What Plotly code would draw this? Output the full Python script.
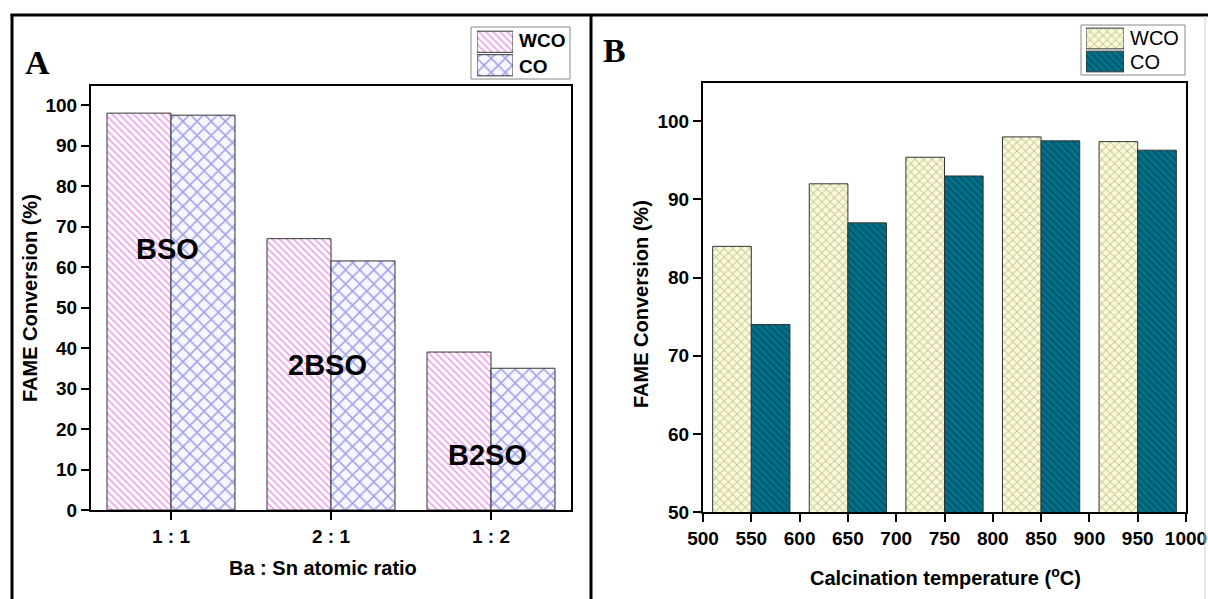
import plotly.graph_objects as go

# ---- data -------------------------------------------------------------
ratio_labels = ["1 : 1", "2 : 1", "1 : 2"]
ratio_wco = [98.0, 67.0, 39.0]
ratio_co = [97.5, 61.5, 35.0]
catalyst_names = ["BSO", "2BSO", "B2SO"]
catalyst_label_y = [64.4, 35.8, 13.6]

temperatures = [550, 650, 750, 850, 950]
temp_wco = [84.0, 92.0, 95.4, 98.0, 97.4]
temp_co = [74.0, 87.0, 93.0, 97.5, 96.3]
temp_ticks = [500, 550, 600, 650, 700, 750, 800, 850, 900, 950, 1000]

series_names = ["WCO", "CO"]

W, H = 1208, 599


def px_x(p):
    return p / W


def px_y(p):
    return 1 - p / H


# ---- styles -----------------------------------------------------------
A_WCO = dict(shape="\\", fgcolor="#dd50dd", bgcolor="#ffffff", size=5, solidity=0.35)
A_CO = dict(shape="x", fgcolor="#4c4cd6", bgcolor="#f6f6ff", size=10, solidity=0.28)
B_WCO = dict(shape="x", fgcolor="#96965a", bgcolor="#fbfbdc", size=6, solidity=0.3)
B_CO = dict(shape="\\", fgcolor="#00384a", bgcolor="#00728a", size=5, solidity=0.35)
FILL = {"A_WCO": "white", "A_CO": "white", "B_WCO": "#fbfbdc", "B_CO": "#00728a"}
OUTLINE = dict(color="#333333", width=1)

tick_font = dict(family="Liberation Sans, Arial", size=19, color="black", weight="bold")

fig = go.Figure()

# ---- panel A bars -----------------------------------------------------
fig.add_trace(go.Bar(x=ratio_labels, y=ratio_wco, name="WCO",
                     marker=dict(color=FILL["A_WCO"], pattern=A_WCO, line=OUTLINE),
                     xaxis="x", yaxis="y"))
fig.add_trace(go.Bar(x=ratio_labels, y=ratio_co, name="CO",
                     marker=dict(color=FILL["A_CO"], pattern=A_CO, line=OUTLINE),
                     xaxis="x", yaxis="y"))

# ---- panel B bars -----------------------------------------------------
fig.add_trace(go.Bar(x=temperatures, y=temp_wco, name="WCO",
                     marker=dict(color=FILL["B_WCO"], pattern=B_WCO, line=OUTLINE),
                     xaxis="x2", yaxis="y2"))
fig.add_trace(go.Bar(x=temperatures, y=temp_co, name="CO",
                     marker=dict(color=FILL["B_CO"], pattern=B_CO, line=OUTLINE),
                     xaxis="x2", yaxis="y2"))


# ---- legend swatches: one horizontal bar per entry ----------------------
def add_swatches(xa, ya, styles, fills):
    for name, style, fill in zip(series_names, styles, fills):
        fig.add_trace(go.Bar(y=[name], x=[1], orientation="h", width=0.9, offset=-0.45,
                             marker=dict(color=fill, pattern=style, line=OUTLINE),
                             xaxis=xa, yaxis=ya, hoverinfo="skip"))


add_swatches("x3", "y3", [A_WCO, A_CO], [FILL["A_WCO"], FILL["A_CO"]])
add_swatches("x4", "y4", [B_WCO, B_CO], [FILL["B_WCO"], FILL["B_CO"]])

axis_common = dict(showline=True, linecolor="black", linewidth=2, mirror=True,
                   ticks="outside", ticklen=8, tickwidth=2, tickcolor="black",
                   showgrid=False, zeroline=False, tickfont=tick_font, automargin=False)

hidden = dict(visible=False, showgrid=False, zeroline=False, fixedrange=True, automargin=False)

fig.update_layout(
    width=W, height=H,
    margin=dict(l=0, r=0, t=0, b=0, pad=0, autoexpand=False),
    paper_bgcolor="white", plot_bgcolor="white",
    showlegend=False,
    barmode="group", bargap=0.2, bargroupgap=0,
    xaxis=dict(axis_common, domain=[px_x(91), px_x(571)], type="category",
               range=[-0.5, 2.5], anchor="y"),
    yaxis=dict(axis_common, domain=[px_y(510), px_y(86)], range=[0, 104.7],
               tickvals=list(range(0, 101, 10)), anchor="x"),
    xaxis2=dict(axis_common, domain=[px_x(703), px_x(1186)], range=[500, 1000],
                tickvals=temp_ticks, anchor="y2"),
    yaxis2=dict(axis_common, domain=[px_y(512), px_y(83)], range=[50, 104.9],
                tickvals=[50, 60, 70, 80, 90, 100], anchor="x2"),
    xaxis3=dict(hidden, domain=[px_x(477), px_x(513)], range=[0, 1], anchor="y3"),
    yaxis3=dict(hidden, domain=[px_y(77), px_y(30)], range=[1.5, -0.5],
                type="category", anchor="x3"),
    xaxis4=dict(hidden, domain=[px_x(1086), px_x(1124)], range=[0, 1], anchor="y4"),
    yaxis4=dict(hidden, domain=[px_y(73), px_y(27)], range=[1.5, -0.5],
                type="category", anchor="x4"),
)

shapes = [
    # panel frames
    dict(type="line", xref="paper", yref="paper", x0=px_x(10.5), x1=1, y0=px_y(15), y1=px_y(15),
         line=dict(color="black", width=3)),
    dict(type="line", xref="paper", yref="paper", x0=px_x(12), x1=px_x(12), y0=px_y(14), y1=0,
         line=dict(color="black", width=3)),
    dict(type="line", xref="paper", yref="paper", x0=px_x(591), x1=px_x(591), y0=px_y(14), y1=0,
         line=dict(color="black", width=3)),
    dict(type="line", xref="paper", yref="paper", x0=px_x(1205), x1=px_x(1205), y0=px_y(16), y1=0,
         line=dict(color="#cccccc", width=1)),
    # legend boxes
    dict(type="rect", xref="paper", yref="paper", x0=px_x(471), x1=px_x(570), y0=px_y(79), y1=px_y(27),
         line=dict(color="#888888", width=1), fillcolor="rgba(0,0,0,0)"),
    dict(type="rect", xref="paper", yref="paper", x0=px_x(1081), x1=px_x(1185), y0=px_y(75), y1=px_y(25),
         line=dict(color="#888888", width=1), fillcolor="rgba(0,0,0,0)"),
]
fig.update_layout(shapes=shapes)

bold = dict(family="Liberation Sans, Arial", color="black", weight="bold")
serif = dict(family="Liberation Serif, Times New Roman", size=34, color="black", weight="bold")


def label(text, px, py, font, xanchor="center", angle=0):
    return dict(text=text, x=px_x(px), y=px_y(py), xref="paper", yref="paper",
                xanchor=xanchor, yanchor="middle", showarrow=False, textangle=angle, font=font)


ann = [
    # panel letters
    label("A", 37, 62, serif),
    label("B", 614, 50, serif),
    # axis titles
    label("FAME Conversion (%)", 30, 298, dict(bold, size=20), angle=-90),
    label("FAME Conversion (%)", 641, 304, dict(bold, size=20), angle=-90),
    label("Ba : Sn atomic ratio", 323, 568, dict(bold, size=20)),
    label("Calcination temperature (<sup>o</sup>C)", 945, 576, dict(bold, size=20)),
]
# catalyst labels
for i, (name, yv) in enumerate(zip(catalyst_names, catalyst_label_y)):
    ann.append(dict(text=name, x=i - 0.02, y=yv, xref="x", yref="y", showarrow=False,
                    xanchor="center", yanchor="middle", font=dict(bold, size=29)))
# legend texts
for name, py in zip(series_names, [41, 66]):
    ann.append(label(name, 517, py, dict(bold, size=19), xanchor="left"))
for name, py in zip(series_names, [38, 62]):
    ann.append(label(name, 1128, py, dict(family="Liberation Sans, Arial", size=20, color="black"),
                     xanchor="left"))
fig.update_layout(annotations=ann)

fig.write_html("out.html")
